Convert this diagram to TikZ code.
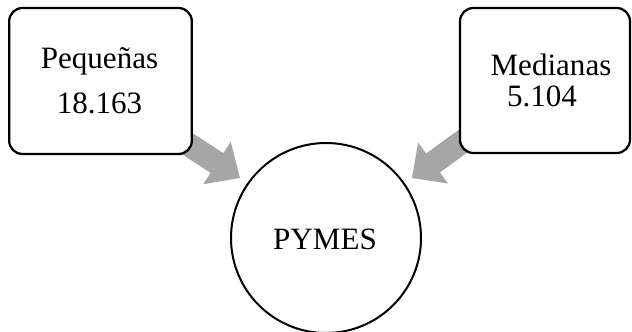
\documentclass[tikz,border=0pt]{standalone}
\usepackage{fontspec}
\setmainfont{Liberation Serif}
\usetikzlibrary{calc,backgrounds}
\definecolor{arrowgray}{HTML}{A6A6A6}
\tikzset{
  catbox/.style={draw=black, line width=1.7pt, rounded corners=10pt, fill=white,
    minimum width=137pt, inner sep=0pt},
  hub/.style={draw=black, circle, line width=1.5pt, fill=white,
    minimum size=142.5pt, inner sep=0pt},
  lbl/.style={inner sep=0pt, anchor=base, font=\fontsize{23.3}{23.3}\selectfont},
}
% wide grey arrow: tail #1, base of the head #2, tip #3
\newcommand{\blockarrow}[3]{%
  \fill[arrowgray]
    ($(#1)!8.8pt!90:(#2)$) -- ($(#2)!8.8pt!-90:(#1)$) -- ($(#2)!19pt!-90:(#1)$) --
    (#3) --
    ($(#2)!19pt!90:(#1)$) -- ($(#2)!8.8pt!90:(#1)$) -- ($(#1)!8.8pt!-90:(#2)$) -- cycle;}
\begin{document}
\begin{tikzpicture}[x=0.75pt, y=-0.75pt]
  \useasboundingbox (0,0) rectangle (632,332);
  % category boxes and the central circle
  \node (pequenas) [catbox, minimum height=109.5pt] at (100.5,81) {};
  \node (medianas) [catbox, minimum width=127.5pt, minimum height=108.75pt] at (545,80.5) {};
  \node (pymes) [hub] at (326,238) {};
  % arrows from the boxes to the circle, kept behind the boxes
  \coordinate (ltail) at ($(pequenas.center)+(58,44)$);
  \coordinate (lbase) at (217,163);
  \coordinate (ltip) at (240,178);
  \coordinate (rtail) at ($(medianas.center)+(-55,41)$);
  \coordinate (rbase) at (433,163);
  \coordinate (rtip) at (412,178);
  \begin{scope}[on background layer]
    \blockarrow{ltail}{lbase}{ltip}
    \blockarrow{rtail}{rbase}{rtip}
  \end{scope}
  % labels
  \node[lbl] (t1) at (99.5,68) {Pequeñas};
  \node[lbl] (t2) at (99.5,113) {18.163};
  \node[lbl] (t3) at (551,75) {Medianas};
  \node[lbl] (t4) at (542,106) {5.104};
  \node[lbl] (t5) at (325,249) {PYMES};
\end{tikzpicture}
\end{document}
